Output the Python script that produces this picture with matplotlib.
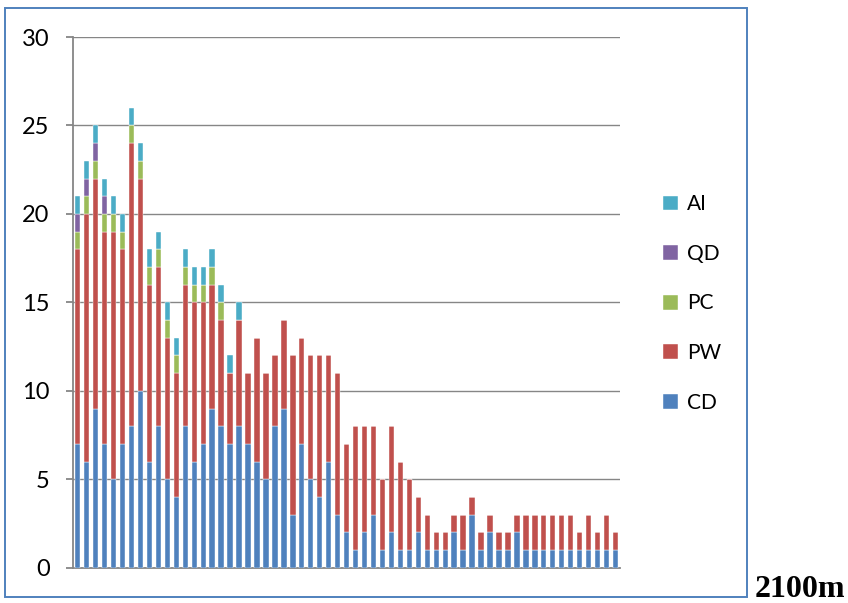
import matplotlib
matplotlib.use("Agg")
import matplotlib.pyplot as plt
import numpy as np
from matplotlib.patches import Rectangle

# stacked counts per sample (61 categories)
cd = [7, 6, 9, 7, 5, 7, 8, 10, 6, 8, 5, 4, 8, 6, 7, 9, 8, 7, 8, 7,
      6, 5, 8, 9, 3, 7, 5, 4, 6, 3, 2, 1, 2, 3, 1, 2, 1, 1, 2, 1,
      1, 1, 2, 1, 3, 1, 2, 1, 1, 2, 1, 1, 1, 1, 1, 1, 1, 1, 1, 1, 1]
pw = [11, 14, 13, 12, 14, 11, 16, 12, 10, 9, 8, 7, 8, 9, 8, 7, 6, 4, 6, 4,
      7, 6, 4, 5, 9, 6, 7, 8, 6, 8, 5, 7, 6, 5, 4, 6, 5, 4, 2, 2,
      1, 1, 1, 2, 1, 1, 1, 1, 1, 1, 2, 2, 2, 2, 2, 2, 1, 2, 1, 2, 1]
pc = [1, 1, 1, 1, 1, 1, 1, 1, 1, 1, 1, 1, 1, 1, 1, 1, 1, 0, 0, 0] + [0] * 41
qd = [1, 1, 1, 1, 0, 0, 0, 0, 0, 0, 0, 0, 0, 0, 0, 0, 0, 0, 0, 0] + [0] * 41
ai = [1, 1, 1, 1, 1, 1, 1, 1, 1, 1, 1, 1, 1, 1, 1, 1, 1, 1, 1, 0] + [0] * 41

series = [("CD", cd, "#4F81BD"), ("PW", pw, "#C0504D"), ("PC", pc, "#9BBB59"),
          ("QD", qd, "#8064A2"), ("AI", ai, "#4BACC6")]

fig = plt.figure(figsize=(8.48, 6.03), dpi=100)
ax = fig.add_axes([0.0864, 0.0585, 0.6447, 0.8801])

x = np.arange(len(cd))
bottom = np.zeros(len(cd))
handles = []
for name, vals, col in series:
    vals = np.array(vals)
    h = ax.bar(x, vals, 0.6, bottom=bottom, color=col, label=name,
               edgecolor="white", linewidth=0.3, zorder=3)
    handles.append(h)
    bottom += vals

ax.set_xlim(-0.5, len(cd) - 0.5)
ax.set_ylim(0, 30)
ax.set_yticks(range(0, 31, 5))
ax.set_xticks([])
ax.yaxis.grid(True, color="#868686", linewidth=1.0, zorder=0)
ax.set_axisbelow(True)
for s in ["top", "right"]:
    ax.spines[s].set_visible(False)
for s in ["left", "bottom"]:
    ax.spines[s].set_color("#868686")
    ax.spines[s].set_linewidth(1.3)
ax.tick_params(axis="y", length=5, width=1.3, color="#868686", pad=12,
               labelsize=17)
for lab in ax.get_yticklabels():
    lab.set_family("Lato")

# legend: reversed so the top segment is listed first
leg = ax.legend(handles[::-1], [s[0] for s in series][::-1],
                loc="center left", bbox_to_anchor=(1.045, 0.498), frameon=False,
                prop={"family": "Lato", "size": 15}, handlelength=0.72,
                handleheight=0.72, handletextpad=0.4, labelspacing=1.42)

# outer frame
fig.patches.append(Rectangle((5 / 848, 6 / 603), 742 / 848, 589 / 603,
                             transform=fig.transFigure, fill=False,
                             edgecolor="#4F81BD", linewidth=1.4))

fig.text(755 / 848, 6 / 603, "2100m", family="Liberation Serif",
         fontweight="bold", fontsize=23, ha="left", va="baseline")

plt.savefig("out.png", dpi=100, facecolor="white")
